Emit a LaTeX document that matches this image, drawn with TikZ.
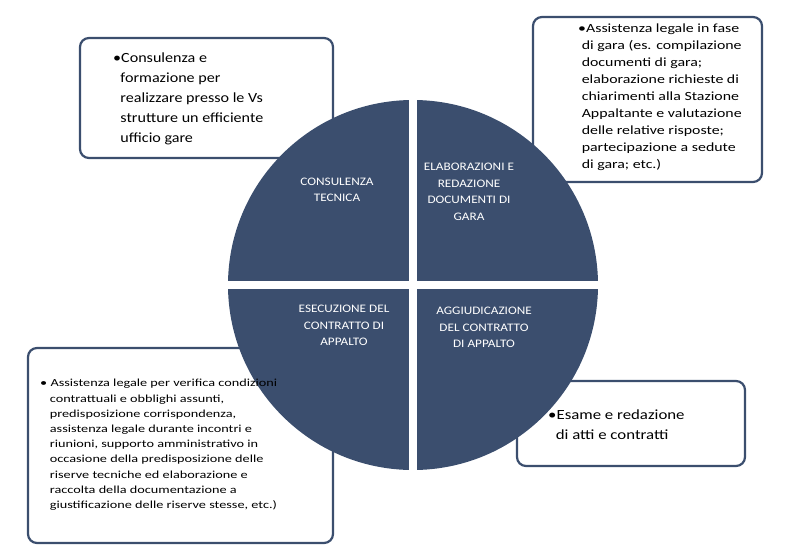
\documentclass[tikz,border=0pt]{standalone}
\usepackage{fontspec}
\setmainfont{Carlito}
\usepackage{graphicx}
\definecolor{navy}{HTML}{3B4E6E}
\newcommand\stx[5]{\scalebox{#1}[1]{\fontsize{#2}{#3}\selectfont\begin{tabular}{@{}#4@{}}#5\end{tabular}}}
\begin{document}
\begin{tikzpicture}[x=1pt,y=-1pt,
  box/.style={draw=navy,line width=2.2pt,rounded corners=9pt,fill=white},
  btxt/.style={anchor=north west,inner sep=0pt},
  qtxt/.style={text=white,inner sep=0pt}]
\useasboundingbox (0,0) rectangle (799,555);
\draw[box] (80,38) rectangle (333,158);
\draw[box] (533,17) rectangle (762,182);
\draw[box] (28,348) rectangle (333,543);
\draw[box] (517,381) rectangle (745,466);
\fill[navy] (413,285) circle (185);
\begin{scope}
\clip (413,285) circle (186);
\fill[white] (409,95) rectangle (417,475);
\fill[white] (223,281) rectangle (603,289);
\end{scope}
\node[btxt] (t1) at (113,48) {\stx{1.15}{14}{20}{l}{•Consulenza e\\\ \ formazione per\\\ \ realizzare presso le Vs\\\ \ strutture un efficiente\\\ \ ufficio gare}};
\node[btxt] (t2) at (578,20) {\stx{1.27}{12.5}{17}{l}{•Assistenza legale in fase\\\ di gara (es. compilazione\\\ documenti di gara;\\\ elaborazione richieste di\\\ chiarimenti alla Stazione\\\ Appaltante e valutazione\\\ delle relative risposte;\\\ partecipazione a sedute\\\ di gara; etc.)}};
\node[btxt] (t3) at (40,376) {\stx{1.32}{10.8}{15.2}{l}{• Assistenza legale per verifica condizioni\\\ \ \ contrattuali e obblighi assunti,\\\ \ \ predisposizione corrispondenza,\\\ \ \ assistenza legale durante incontri e\\\ \ \ riunioni, supporto amministrativo in\\\ \ \ occasione della predisposizione delle\\\ \ \ riserve tecniche ed elaborazione e\\\ \ \ raccolta della documentazione a\\\ \ \ giustificazione delle riserve stesse, etc.)}};
\node[btxt] (t4) at (548,405) {\stx{1.2}{14}{20}{l}{•Esame e redazione\\\ \ di atti e contratti}};
\node[qtxt] (q1) at (337,190) {\stx{1.15}{11.5}{16}{c}{CONSULENZA\\TECNICA}};
\node[qtxt] (q2) at (469,192) {\stx{1.15}{11.5}{16.5}{c}{ELABORAZIONI E\\REDAZIONE\\DOCUMENTI DI\\GARA}};
\node[qtxt] (q3) at (344,326) {\stx{1.15}{11.5}{16.5}{c}{ESECUZIONE DEL\\CONTRATTO DI\\APPALTO}};
\node[qtxt] (q4) at (484,328) {\stx{1.15}{11.5}{16.5}{c}{AGGIUDICAZIONE\\DEL CONTRATTO\\DI APPALTO}};
\end{tikzpicture}
\end{document}
